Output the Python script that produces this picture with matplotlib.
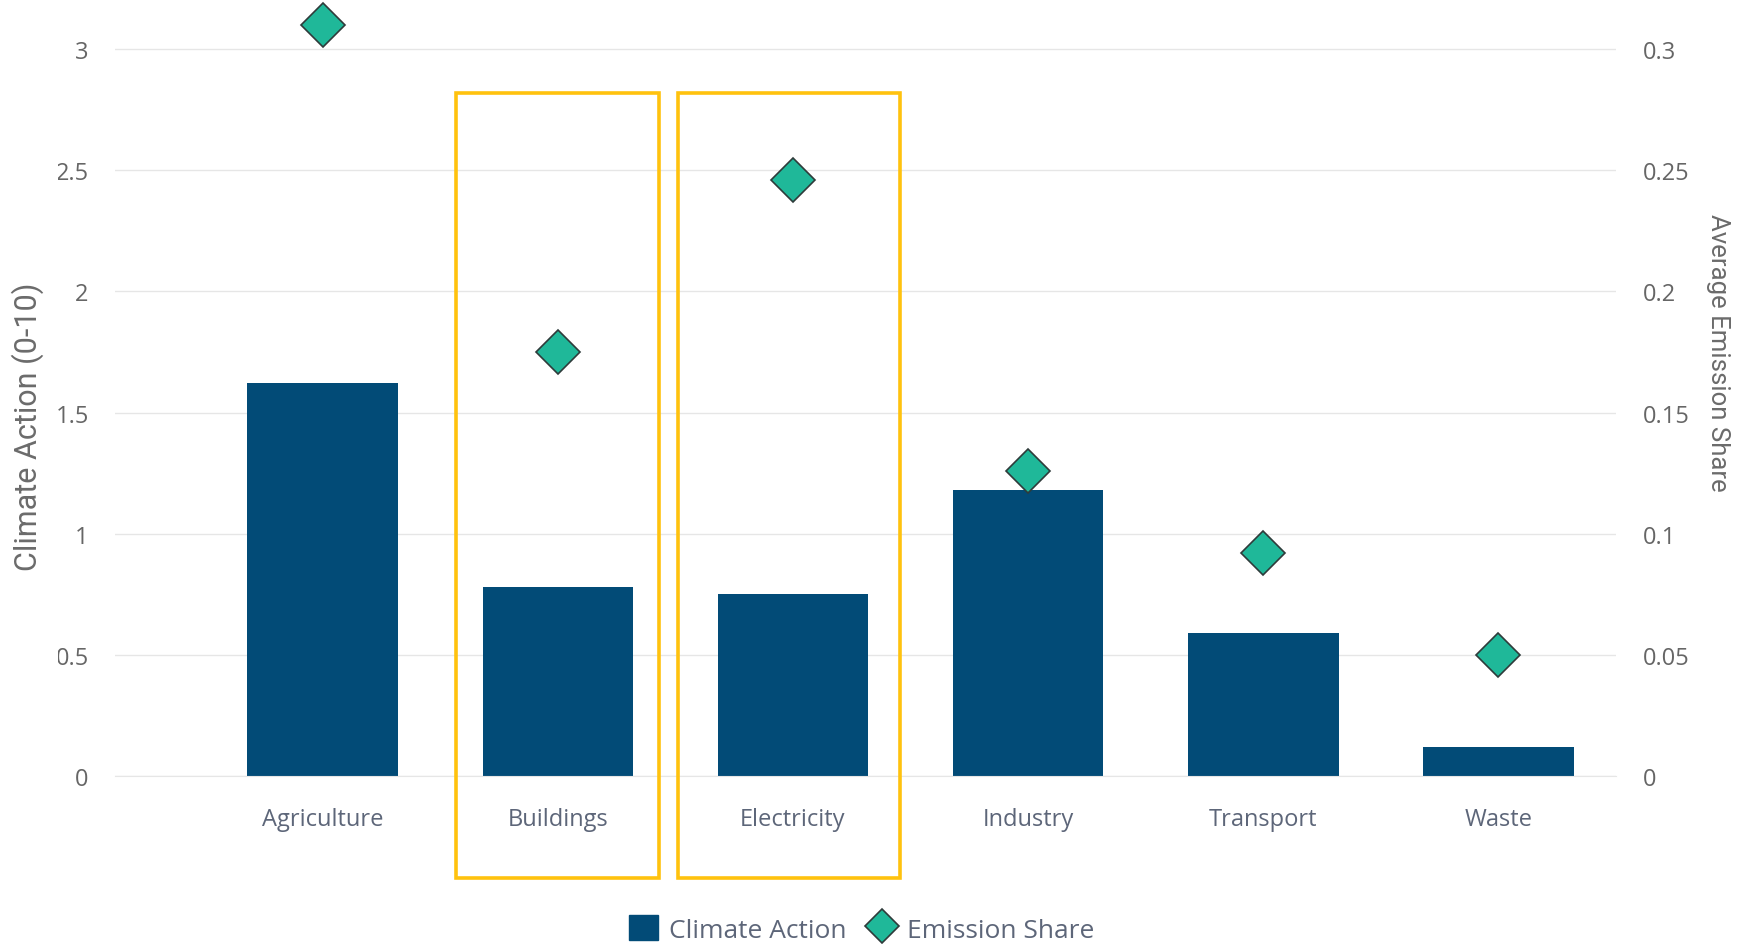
import matplotlib
matplotlib.use("Agg")
import matplotlib.pyplot as plt
from matplotlib.patches import Rectangle, Patch
from matplotlib.lines import Line2D

# data
categories = ["Agriculture", "Buildings", "Electricity", "Industry", "Transport", "Waste"]
climate_action = [1.62, 0.78, 0.75, 1.18, 0.59, 0.12]
emission_share = [0.310, 0.175, 0.246, 0.126, 0.092, 0.050]
left_ticks = [0, 0.5, 1, 1.5, 2, 2.5, 3]
left_labels = ["0", "0.5", "1", "1.5", "2", "2.5", "3"]
right_ticks = [0, 0.05, 0.1, 0.15, 0.2, 0.25, 0.3]
right_labels = ["0", "0.05", "0.1", "0.15", "0.2", "0.25", "0.3"]
# highlighted categories: (name, left offset, right offset) around the category slot
highlights = [("Buildings", -0.433, 0.432), ("Electricity", -0.488, 0.457)]

BAR = "#024b77"
DIAMOND = "#1fb899"
GOLD = "#ffc20e"
TICK = "#666666"
CAT = "#5d6679"

plt.rcParams["font.family"] = ["Open Sans", "DejaVu Sans"]
NARROW = ["Liberation Sans Narrow", "Roboto", "DejaVu Sans"]

fig = plt.figure(figsize=(17.41, 9.45), dpi=100)
ax = fig.add_axes([0.0661, 0.1776, 0.8621, 0.8209])
ax2 = ax.twinx()

x = list(range(len(categories)))
ax.bar(x, climate_action, width=0.64, color=BAR, zorder=2)
ax2.plot(x, emission_share, "D", ms=22, color=DIAMOND, mec="#2f3b3a", mew=1.2, zorder=3,
         clip_on=False)

ax.set_xlim(-0.883, 5.5)
ax.set_ylim(0, 3.2)
ax2.set_ylim(0, 0.32)

ax.set_yticks(left_ticks)
ax.set_yticklabels(left_labels)
ax2.set_yticks(right_ticks)
ax2.set_yticklabels(right_labels)
ax.set_xticks(x)
ax.set_xticklabels(categories)

ax.tick_params(axis="y", length=0, pad=19, labelsize=17, labelcolor=TICK)
ax2.tick_params(axis="y", length=0, pad=19, labelsize=17, labelcolor=TICK)
ax.tick_params(axis="x", length=0, pad=22, labelsize=17, labelcolor=CAT)

ax.grid(True, axis="y", color="#e6e6e6", lw=1.0, zorder=0)
ax.set_axisbelow(True)
for a in (ax, ax2):
    for s in a.spines.values():
        s.set_visible(False)
ax.spines["bottom"].set_visible(True)
ax.spines["bottom"].set_color("#e6e6e6")

# gold boxes around the highlighted categories
for name, lo, hi in highlights:
    i = categories.index(name)
    ax.add_patch(Rectangle((i + lo, -0.42), hi - lo, 2.817 + 0.42, fill=False,
                           ec=GOLD, lw=2.6, clip_on=False, zorder=4))

# axis titles
fig.text(0.016, 0.548, "Climate Action (0-10)", rotation=90, ha="center", va="center",
         fontsize=22, color="#6b6b6b", family=NARROW, zorder=6)
fig.text(0.987, 0.627, "Average Emission Share", rotation=270, ha="center", va="center",
         fontsize=18.5, color="#6b6b6b", family=NARROW, zorder=6)
# left tick labels are cropped in the original
fig.patches.append(Rectangle((0.026, 0.1), 0.0072, 0.9, transform=fig.transFigure,
                             fc="white", ec="none", zorder=5))

handles = [Patch(fc=BAR, ec=BAR),
           Line2D([], [], marker="D", ls="none", ms=17, color=DIAMOND, mec="#2f3b3a", mew=1.2)]
fig.legend(handles, ["Climate Action", "Emission Share"], loc="center",
           bbox_to_anchor=(0.495, 0.016), ncol=2, frameon=False, fontsize=19,
           labelcolor=CAT, handlelength=1.1, handleheight=1.1, handletextpad=0.4,
           columnspacing=0.8)

fig.savefig("out.png", dpi=100)
